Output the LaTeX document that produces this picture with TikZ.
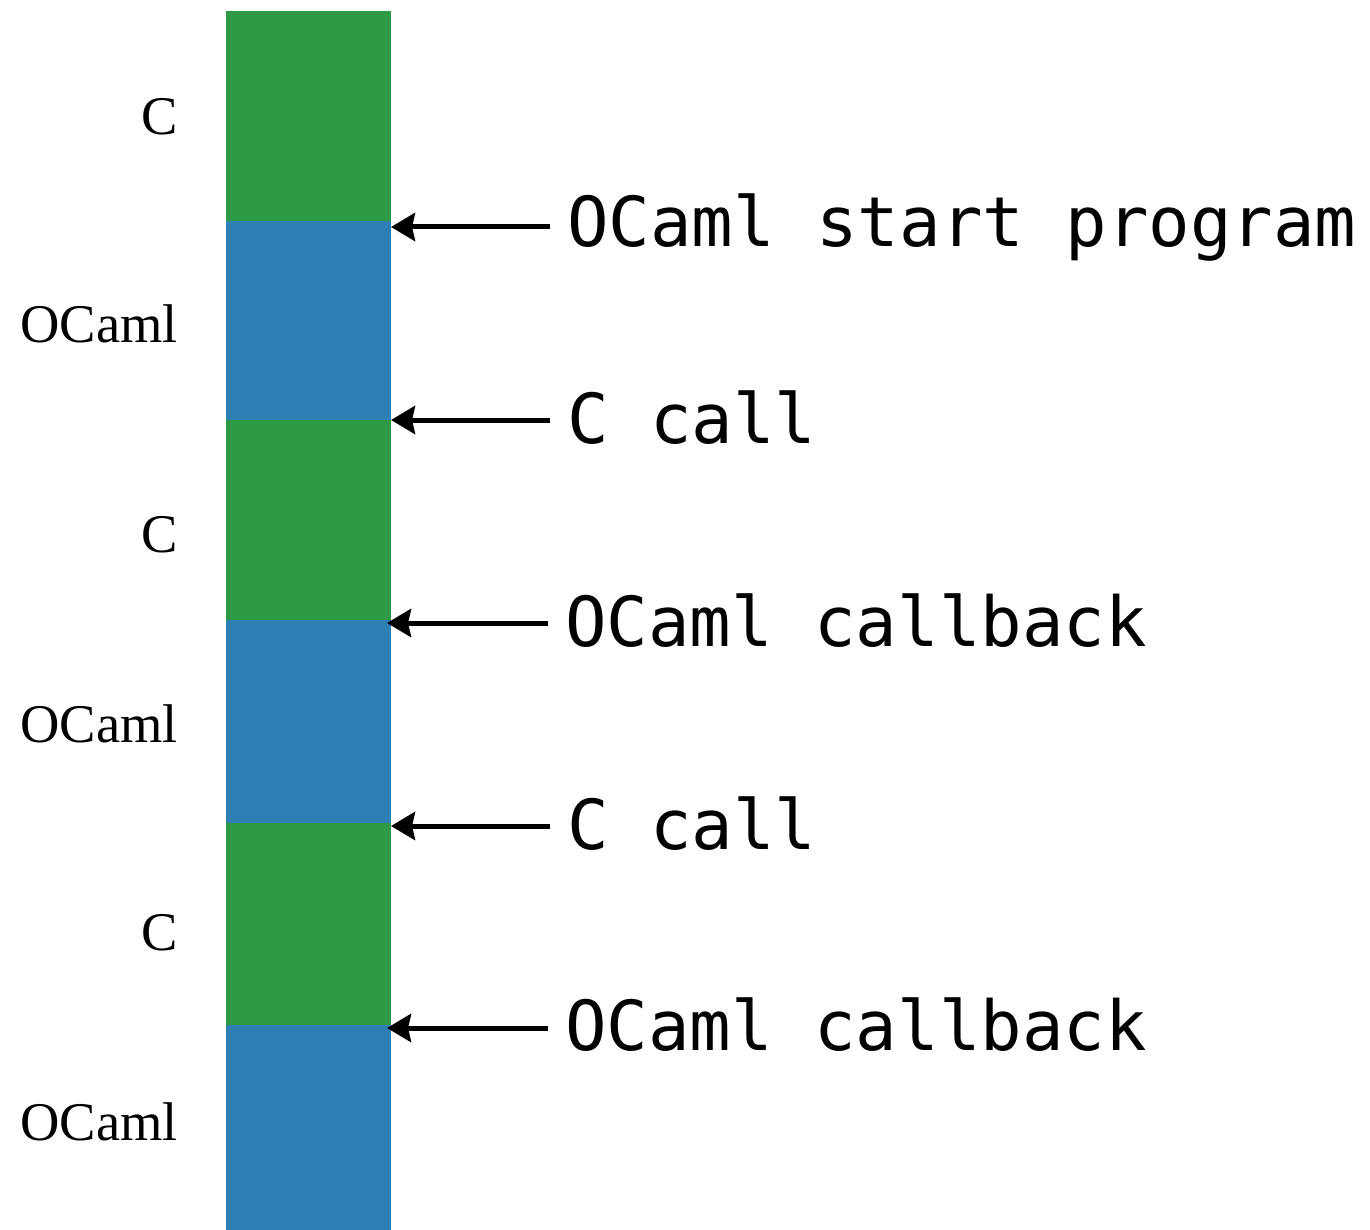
\documentclass[tikz,border=0pt]{standalone}
\usepackage{fontspec}
\setmainfont{Liberation Serif}
\newfontfamily\monof{DejaVu Sans Mono}
\usetikzlibrary{arrows.meta}
\definecolor{cgreen}{HTML}{2F9A45}
\definecolor{cblue}{HTML}{2E80B4}
\begin{document}
\begin{tikzpicture}[x=1pt,y=-1pt,
  seg/.style={anchor=north west,inner sep=0pt,outer sep=0pt,minimum width=165pt},
  lang/.style={anchor=base east,inner sep=0pt,font=\fontsize{54.5}{58}\selectfont},
  evt/.style={anchor=base west,inner xsep=17pt,inner ysep=0pt,font=\monof\fontsize{69}{72}\selectfont},
  arr/.style={line width=5pt,-{Stealth[length=24pt,width=28pt,inset=3pt]}}]
\useasboundingbox (0,0) rectangle (1370,1230);
% column segments
\node[seg,fill=cgreen,minimum height=210pt] (s1) at (226,11) {};
\node[seg,fill=cblue,minimum height=199pt] (s2) at (226,221) {};
\node[seg,fill=cgreen,minimum height=200pt] (s3) at (226,420) {};
\node[seg,fill=cblue,minimum height=203pt] (s4) at (226,620) {};
\node[seg,fill=cgreen,minimum height=202pt] (s5) at (226,823) {};
\node[seg,fill=cblue,minimum height=205pt] (s6) at (226,1025) {};
% language labels
\node[lang] (t1) at (178,135) {C};
\node[lang] (t2) at (178,342) {OCaml};
\node[lang] (t3) at (178,552) {C};
\node[lang] (t4) at (178,742) {OCaml};
\node[lang] (t5) at (178,950) {C};
\node[lang] (t6) at (178,1140) {OCaml};
% boundary points
\coordinate (b1) at (391,227);
\coordinate (b2) at (391,420);
\coordinate (b3) at (387,623);
\coordinate (b4) at (391,826);
\coordinate (b5) at (387,1028);
% event labels
\node[evt] (e1) at (550,247) {OCaml start program};
\node[evt] (e2) at (550,443) {C call};
\node[evt] (e3) at (548,646) {OCaml callback};
\node[evt] (e4) at (550,849) {C call};
\node[evt] (e5) at (548,1050) {OCaml callback};
% arrows
\draw[arr] (e1.west |- b1) -- (b1);
\draw[arr] (e2.west |- b2) -- (b2);
\draw[arr] (e3.west |- b3) -- (b3);
\draw[arr] (e4.west |- b4) -- (b4);
\draw[arr] (e5.west |- b5) -- (b5);
\end{tikzpicture}
\end{document}
